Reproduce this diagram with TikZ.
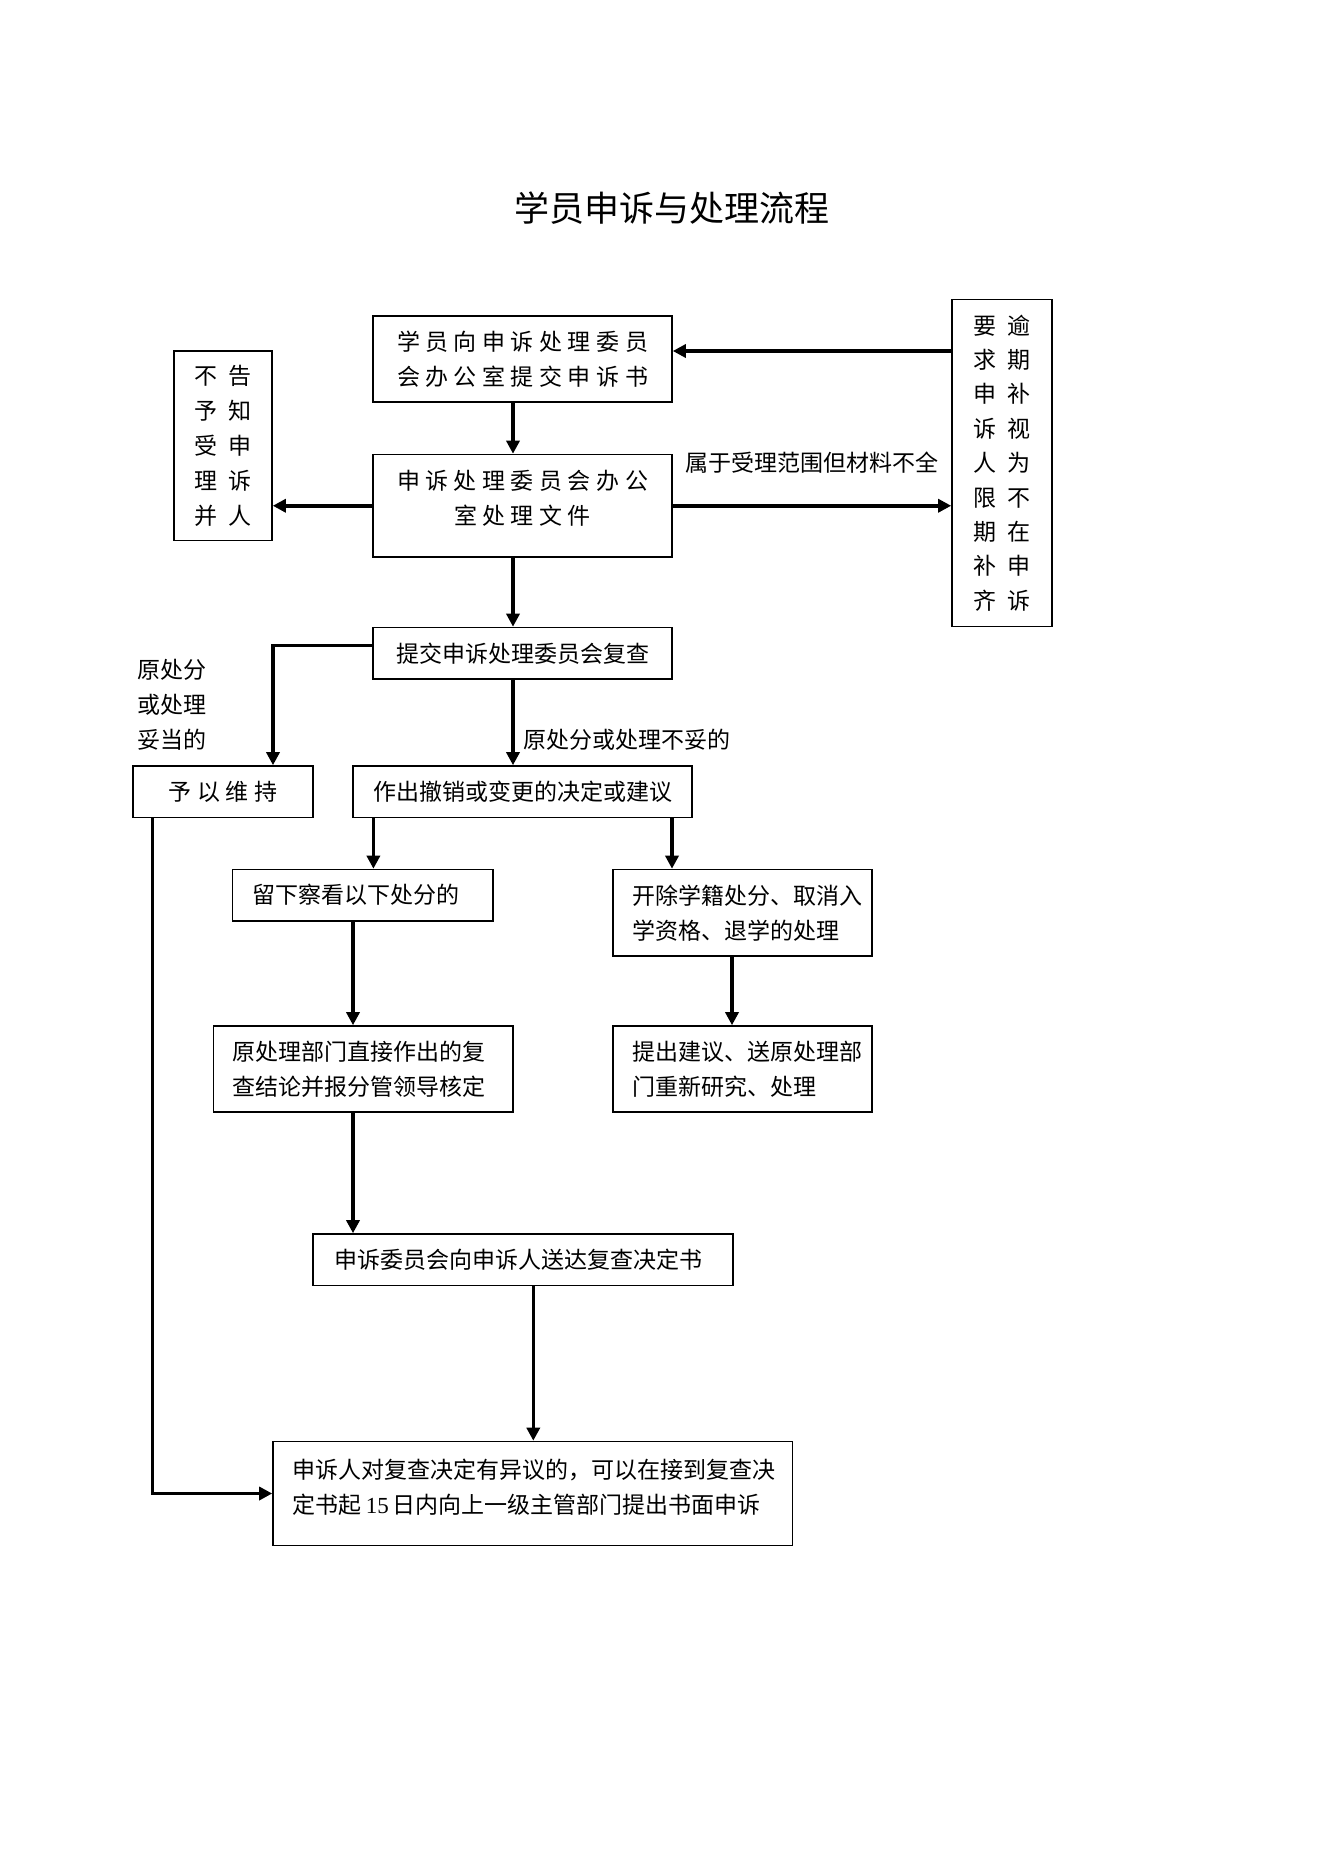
\documentclass[tikz,border=0pt]{standalone}
\usepackage{fontspec}
\setmainfont{Liberation Serif}
\newfontfamily\cjk{Noto Sans CJK SC}
\usetikzlibrary{arrows.meta}
\newcommand\ls{\kern5.5pt}
\newcommand\cs{\kern11pt}
\begin{document}
\begin{tikzpicture}[x=1pt,y=-1pt,
  box/.style={draw, line width=1.6pt, inner sep=0pt},
  txt/.style={inner sep=0pt, align=left, font=\fontsize{23}{35}\selectfont\cjk},
  ctxt/.style={inner sep=0pt, align=center, font=\fontsize{23}{35}\selectfont\cjk},
  arr/.style={line width=3.5pt, -{Triangle[length=13pt,width=13pt]}},
]
\useasboundingbox[fill=white] (0,0) rectangle (1322,1871);

\node[inner sep=0pt, font=\fontsize{35}{40}\selectfont\cjk] (title) at (672,208) {学员申诉与处理流程};

% boxes
\node[box, ctxt, minimum width=299pt, minimum height=86pt] (b1) at (522.5,359)
  {学\ls 员\ls 向\ls 申\ls 诉\ls 处\ls 理\ls 委\ls 员\\会\ls 办\ls 公\ls 室\ls 提\ls 交\ls 申\ls 诉\ls 书};
\node[box, minimum width=299pt, minimum height=102.5pt] (b2) at (522.5,505.75) {};
\node[ctxt] (b2t) at (522.5,498.5)
  {申\ls 诉\ls 处\ls 理\ls 委\ls 员\ls 会\ls 办\ls 公\\室\ls 处\ls 理\ls 文\ls 件};
\node[box, ctxt, minimum width=98pt, minimum height=189.5pt] (lb) at (223,445.75)
  {不\cs 告\\予\cs 知\\受\cs 申\\理\cs 诉\\并\cs 人};
\node[box, inner sep=0pt, align=center, font=\fontsize{23}{34.4}\selectfont\cjk,
  minimum width=100pt, minimum height=327pt] (rb) at (1002,463)
  {要\cs 逾\\求\cs 期\\申\cs 补\\诉\cs 视\\人\cs 为\\限\cs 不\\期\cs 在\\补\cs 申\\齐\cs 诉};
\node[box, ctxt, minimum width=299pt, minimum height=51.5pt] (b3) at (522.5,653.25) {提交申诉处理委员会复查};
\node[box, ctxt, minimum width=180pt, minimum height=51.5pt] (keep) at (223,791.75) {予\ls 以\ls 维\ls 持};
\node[box, ctxt, minimum width=339pt, minimum height=51.5pt] (chg) at (522.5,791.75) {作出撤销或变更的决定或建议};

\node[box, minimum width=260.5pt, minimum height=51.5pt] (stay) at (362.75,895.25) {};
\node[txt, anchor=west] (stayt) at (252.5,895.25) {留下察看以下处分的};
\node[box, minimum width=259pt, minimum height=86.5pt] (expel) at (742.5,912.75) {};
\node[txt, anchor=west] (expelt) at (632,913.3) {开除学籍处分、取消入\\学资格、退学的处理};
\node[box, minimum width=299.5pt, minimum height=86pt] (orig) at (363.25,1069) {};
\node[txt, anchor=west] (origt) at (232,1069.6) {原处理部门直接作出的复\\查结论并报分管领导核定};
\node[box, minimum width=259pt, minimum height=86pt] (sugg) at (742.5,1069) {};
\node[txt, anchor=west] (suggt) at (632,1069) {提出建议、送原处理部\\门重新研究、处理};
\node[box, minimum width=420pt, minimum height=51.5pt] (dlv) at (523,1259.75) {};
\node[txt, anchor=west] (dlvt) at (334,1260) {申诉委员会向申诉人送达复查决定书};
\node[box, minimum width=519.5pt, minimum height=104pt] (fin) at (532.75,1493.5) {};
\node[txt, anchor=west] (fint) at (292.6,1487)
  {申诉人对复查决定有异议的，可以在接到复查决\\定书起{\rmfamily\kern4pt 15\kern4pt}日内向上一级主管部门提出书面申诉};

% labels
\node[ctxt] (lab1) at (812,463) {属于受理范围但材料不全};
\node[ctxt] (lab2) at (627,740) {原处分或处理不妥的};
\node[txt] (lab3) at (172,705) {原处分\\或处理\\妥当的};

% connectors
\coordinate (c1) at (0,351);
\coordinate (c2) at (513,0);
\coordinate (c3) at (273,645.5);
\coordinate (c4) at (373.4,0);
\coordinate (c5) at (672,0);
\coordinate (c6) at (353,0);
\coordinate (c7) at (732,0);
\coordinate (c8) at (533.3,0);
\coordinate (c9) at (152.7,0);
\draw[arr] (rb.west |- c1) -- (b1.east |- c1);
\draw[arr] (b1.south -| c2) -- (b2.north -| c2);
\draw[arr] (b2.south -| c2) -- (b3.north -| c2);
\draw[arr] (b2.west) -- (b2.west -| lb.east);
\draw[arr] (b2.east) -- (b2.east -| rb.west);
\draw[arr] (b3.west |- c3) -| (keep.north -| c3);
\draw[arr] (b3.south -| c2) -- (chg.north -| c2);
\draw[arr] (chg.south -| c4) -- (stay.north -| c4);
\draw[arr] (chg.south -| c5) -- (expel.north -| c5);
\draw[arr] (stay.south -| c6) -- (orig.north -| c6);
\draw[arr] (orig.south -| c6) -- (dlv.north -| c6);
\draw[arr] (expel.south -| c7) -- (sugg.north -| c7);
\draw[arr] (dlv.south -| c8) -- (fin.north -| c8);
\draw[arr] (keep.south -| c9) |- (fin.west);
\end{tikzpicture}
\end{document}
